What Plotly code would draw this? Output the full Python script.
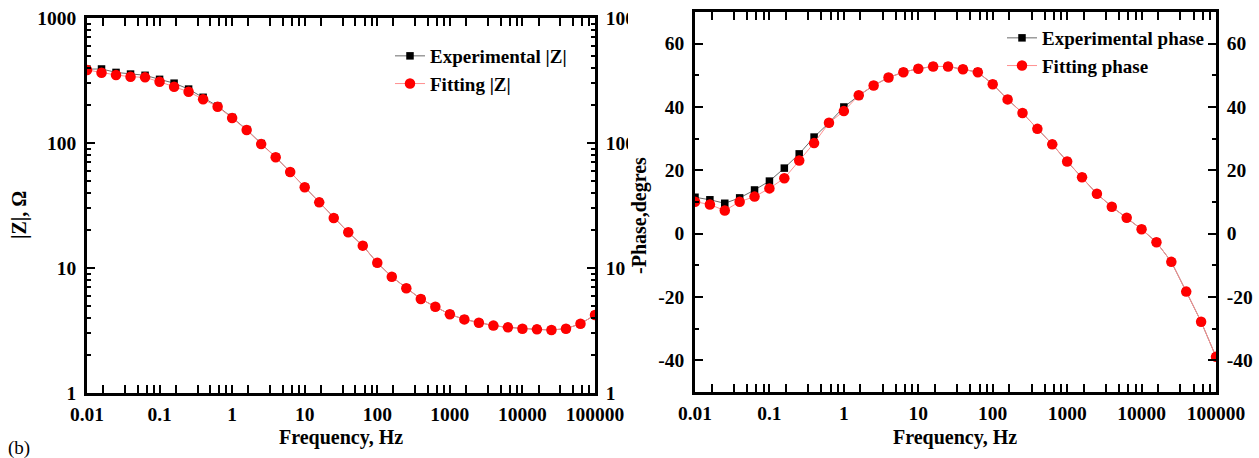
import plotly.graph_objects as go

# Frequency sweep (Hz), 5 points per decade
freq = [0.01, 0.01585, 0.02512, 0.03981, 0.0631, 0.1, 0.1585, 0.2512, 0.3981, 0.631,
        1, 1.585, 2.512, 3.981, 6.31, 10, 15.85, 25.12, 39.81, 63.1,
        100, 158.5, 251.2, 398.1, 631, 1000, 1585, 2512, 3981, 6310,
        10000, 15849, 25119, 39811, 63096, 100000]

# |Z| (ohm)
z_exp = [390, 391, 367, 356, 348, 323, 301, 270, 232, 197,
         160, 128, 99, 77, 58.6, 44.2, 33.5, 25.1, 19.3, 15.1,
         11.0, 8.5, 6.88, 5.65, 4.9, 4.26, 3.88, 3.65, 3.46, 3.35,
         3.27, 3.23, 3.19, 3.27, 3.58, 4.21]
z_fit = [384, 365, 350, 339, 335, 309, 282, 257, 224, 195,
         158.5, 127, 98, 77, 58.6, 44.2, 33.5, 25.1, 19.3, 15.1,
         11.0, 8.5, 6.88, 5.65, 4.9, 4.26, 3.88, 3.65, 3.46, 3.35,
         3.27, 3.23, 3.19, 3.27, 3.58, 4.21]

# -Phase (degrees)
ph_exp = [11.5, 10.7, 9.6, 11.3, 13.8, 16.6, 20.7, 25.2, 30.5, 35.0,
          40.0, 43.6, 46.8, 49.3, 51.0, 52.1, 52.8, 52.8, 51.9, 51.0,
          47.2, 42.4, 38.1, 33.1, 28.2, 22.8, 17.8, 12.6, 8.5, 5.0,
          1.4, -2.7, -8.9, -18.3, -27.8, -38.9]
ph_fit = [10.1, 9.2, 7.3, 10.1, 11.7, 14.3, 17.5, 23.1, 28.6, 35.0,
          38.7, 43.7, 46.8, 49.3, 51.0, 52.1, 52.8, 52.8, 51.9, 51.0,
          47.2, 42.4, 38.1, 33.1, 28.2, 22.8, 17.8, 12.6, 8.5, 5.0,
          1.4, -2.7, -8.9, -18.3, -27.8, -38.9]

freq_ticks = [0.01, 0.1, 1, 10, 100, 1000, 10000, 100000]
freq_labels = ["0.01", "0.1", "1", "10", "100", "1000", "10000", "100000"]
z_ticks = [1, 10, 100, 1000]
z_labels = ["1", "10", "100", "1000"]
ph_ticks = [-40, -20, 0, 20, 40, 60]
ph_labels = ["-40", "-20", "0", "20", "40", "60"]

W, H = 1259, 458
FONT = "Liberation Serif"


def px(x):
    return x / W


def py(y):
    return 1 - y / H


def b(s):
    return "<b>" + s + "</b>"


# Origin-style log minor ticks: five evenly spaced marks per decade
x_minor = [d * k * 10 / 6 for d in freq_ticks[:-1] for k in range(1, 6)]
y_minor = [d * k for d in z_ticks[:-1] for k in range(2, 10)]

EXP_LINE = dict(color="#6a6a6a", width=1)
FIT_LINE = dict(color="#ff8f8f", width=1)
EXP_MARK = dict(symbol="square", size=7.5, color="black")
FIT_MARK = dict(symbol="circle", size=10.5, color="red")

fig = go.Figure()

# |Z| panel
fig.add_trace(go.Scatter(
    x=freq, y=z_exp, mode="lines+markers", name=b("Experimental |Z|"),
    line=EXP_LINE, marker=EXP_MARK, xaxis="x", yaxis="y", legend="legend"))
fig.add_trace(go.Scatter(
    x=freq, y=z_fit, mode="lines+markers", name=b("Fitting |Z|"),
    line=FIT_LINE, marker=FIT_MARK, xaxis="x", yaxis="y", legend="legend"))
# transparent copy so the right-hand |Z| axis is laid out
fig.add_trace(go.Scatter(
    x=freq, y=z_fit, mode="markers", marker=dict(opacity=0),
    showlegend=False, hoverinfo="skip", xaxis="x", yaxis="y3"))

# Phase panel
fig.add_trace(go.Scatter(
    x=freq, y=ph_exp, mode="lines+markers", name=b("Experimental phase"),
    line=EXP_LINE, marker=EXP_MARK, xaxis="x2", yaxis="y2", legend="legend2"))
fig.add_trace(go.Scatter(
    x=freq, y=ph_fit, mode="lines+markers", name=b("Fitting phase"),
    line=FIT_LINE, marker=FIT_MARK, xaxis="x2", yaxis="y2", legend="legend2"))
fig.add_trace(go.Scatter(
    x=freq, y=ph_fit, mode="markers", marker=dict(opacity=0),
    showlegend=False, hoverinfo="skip", xaxis="x2", yaxis="y4"))

tickfont = dict(family=FONT, size=19.5, color="black")
common = dict(showline=True, linecolor="black", linewidth=2.5, ticks="inside",
              ticklen=8, tickwidth=2, tickcolor="black", showgrid=False,
              zeroline=False, automargin=False, tickfont=tickfont)


def xaxis_cfg(dom, anchor):
    return dict(common, domain=dom, anchor=anchor, type="log", range=[-2, 5],
                tickmode="array", tickvals=freq_ticks,
                ticktext=[b(t) for t in freq_labels],
                mirror="allticks", ticklabelstandoff=2,
                minor=dict(tickmode="array", tickvals=x_minor, ticks="inside",
                           ticklen=4, tickwidth=2, tickcolor="black"))


def zaxis_cfg(side, extra):
    d = dict(common, type="log", range=[0, 3], side=side, tickmode="array",
             tickvals=z_ticks, ticktext=[b(t) for t in z_labels],
             ticklabelstandoff=4,
             minor=dict(tickmode="array", tickvals=y_minor, ticks="inside",
                        ticklen=4, tickwidth=2, tickcolor="black"))
    d.update(extra)
    return d


def phaxis_cfg(side, extra):
    d = dict(common, range=[-50, 70], side=side, tickmode="array",
             tickvals=ph_ticks, ticktext=[b(t) for t in ph_labels],
             ticklabelstandoff=4,
             minor=dict(dtick=10, tick0=0, ticks="inside", ticklen=4,
                        tickwidth=2, tickcolor="black"))
    d.update(extra)
    return d


legend_font = dict(family=FONT, size=19, color="black")

fig.update_layout(
    width=W, height=H, autosize=False,
    margin=dict(l=0, r=0, t=0, b=0),
    paper_bgcolor="white", plot_bgcolor="white",
    font=dict(family=FONT, size=19, color="black"),
    xaxis=xaxis_cfg([px(87), px(595)], "y"),
    yaxis=zaxis_cfg("left", dict(domain=[py(393), py(18)], anchor="x")),
    yaxis3=zaxis_cfg("right", dict(overlaying="y", anchor="x")),
    xaxis2=xaxis_cfg([px(695), px(1216)], "y2"),
    yaxis2=phaxis_cfg("left", dict(domain=[py(392), py(12)], anchor="x2")),
    yaxis4=phaxis_cfg("right", dict(overlaying="y2", anchor="x2")),
    legend=dict(x=px(390), y=py(37), xanchor="left", yanchor="top",
                bgcolor="rgba(0,0,0,0)", tracegroupgap=0, font=legend_font),
    legend2=dict(x=px(1002), y=py(19), xanchor="left", yanchor="top",
                 bgcolor="rgba(0,0,0,0)", tracegroupgap=0, font=legend_font),
    showlegend=True,
)

# the phase panel sits over the tail of the right-hand |Z| labels
fig.add_shape(type="rect", xref="paper", yref="paper",
              x0=px(628), x1=px(655), y0=py(165), y1=1,
              fillcolor="white", line=dict(width=0), layer="above")

title_font = dict(family=FONT, size=20, color="black")
ann = dict(xref="paper", yref="paper", showarrow=False,
           xanchor="center", yanchor="middle")
fig.add_annotation(text=b("Frequency, Hz"), x=px(341), y=py(437),
                   font=title_font, **ann)
fig.add_annotation(text=b("Frequency, Hz"), x=px(955), y=py(437),
                   font=title_font, **ann)
fig.add_annotation(text=b("|Z|, Ω"), x=px(19), y=py(215), textangle=-90,
                   font=title_font, **ann)
fig.add_annotation(text=b("-Phase,degres"), x=px(639), y=py(216),
                   textangle=-90, font=title_font, **ann)
fig.add_annotation(text="(b)", x=px(19), y=py(448),
                   font=dict(family=FONT, size=19, color="black"), **ann)

fig.write_html("out.html")
